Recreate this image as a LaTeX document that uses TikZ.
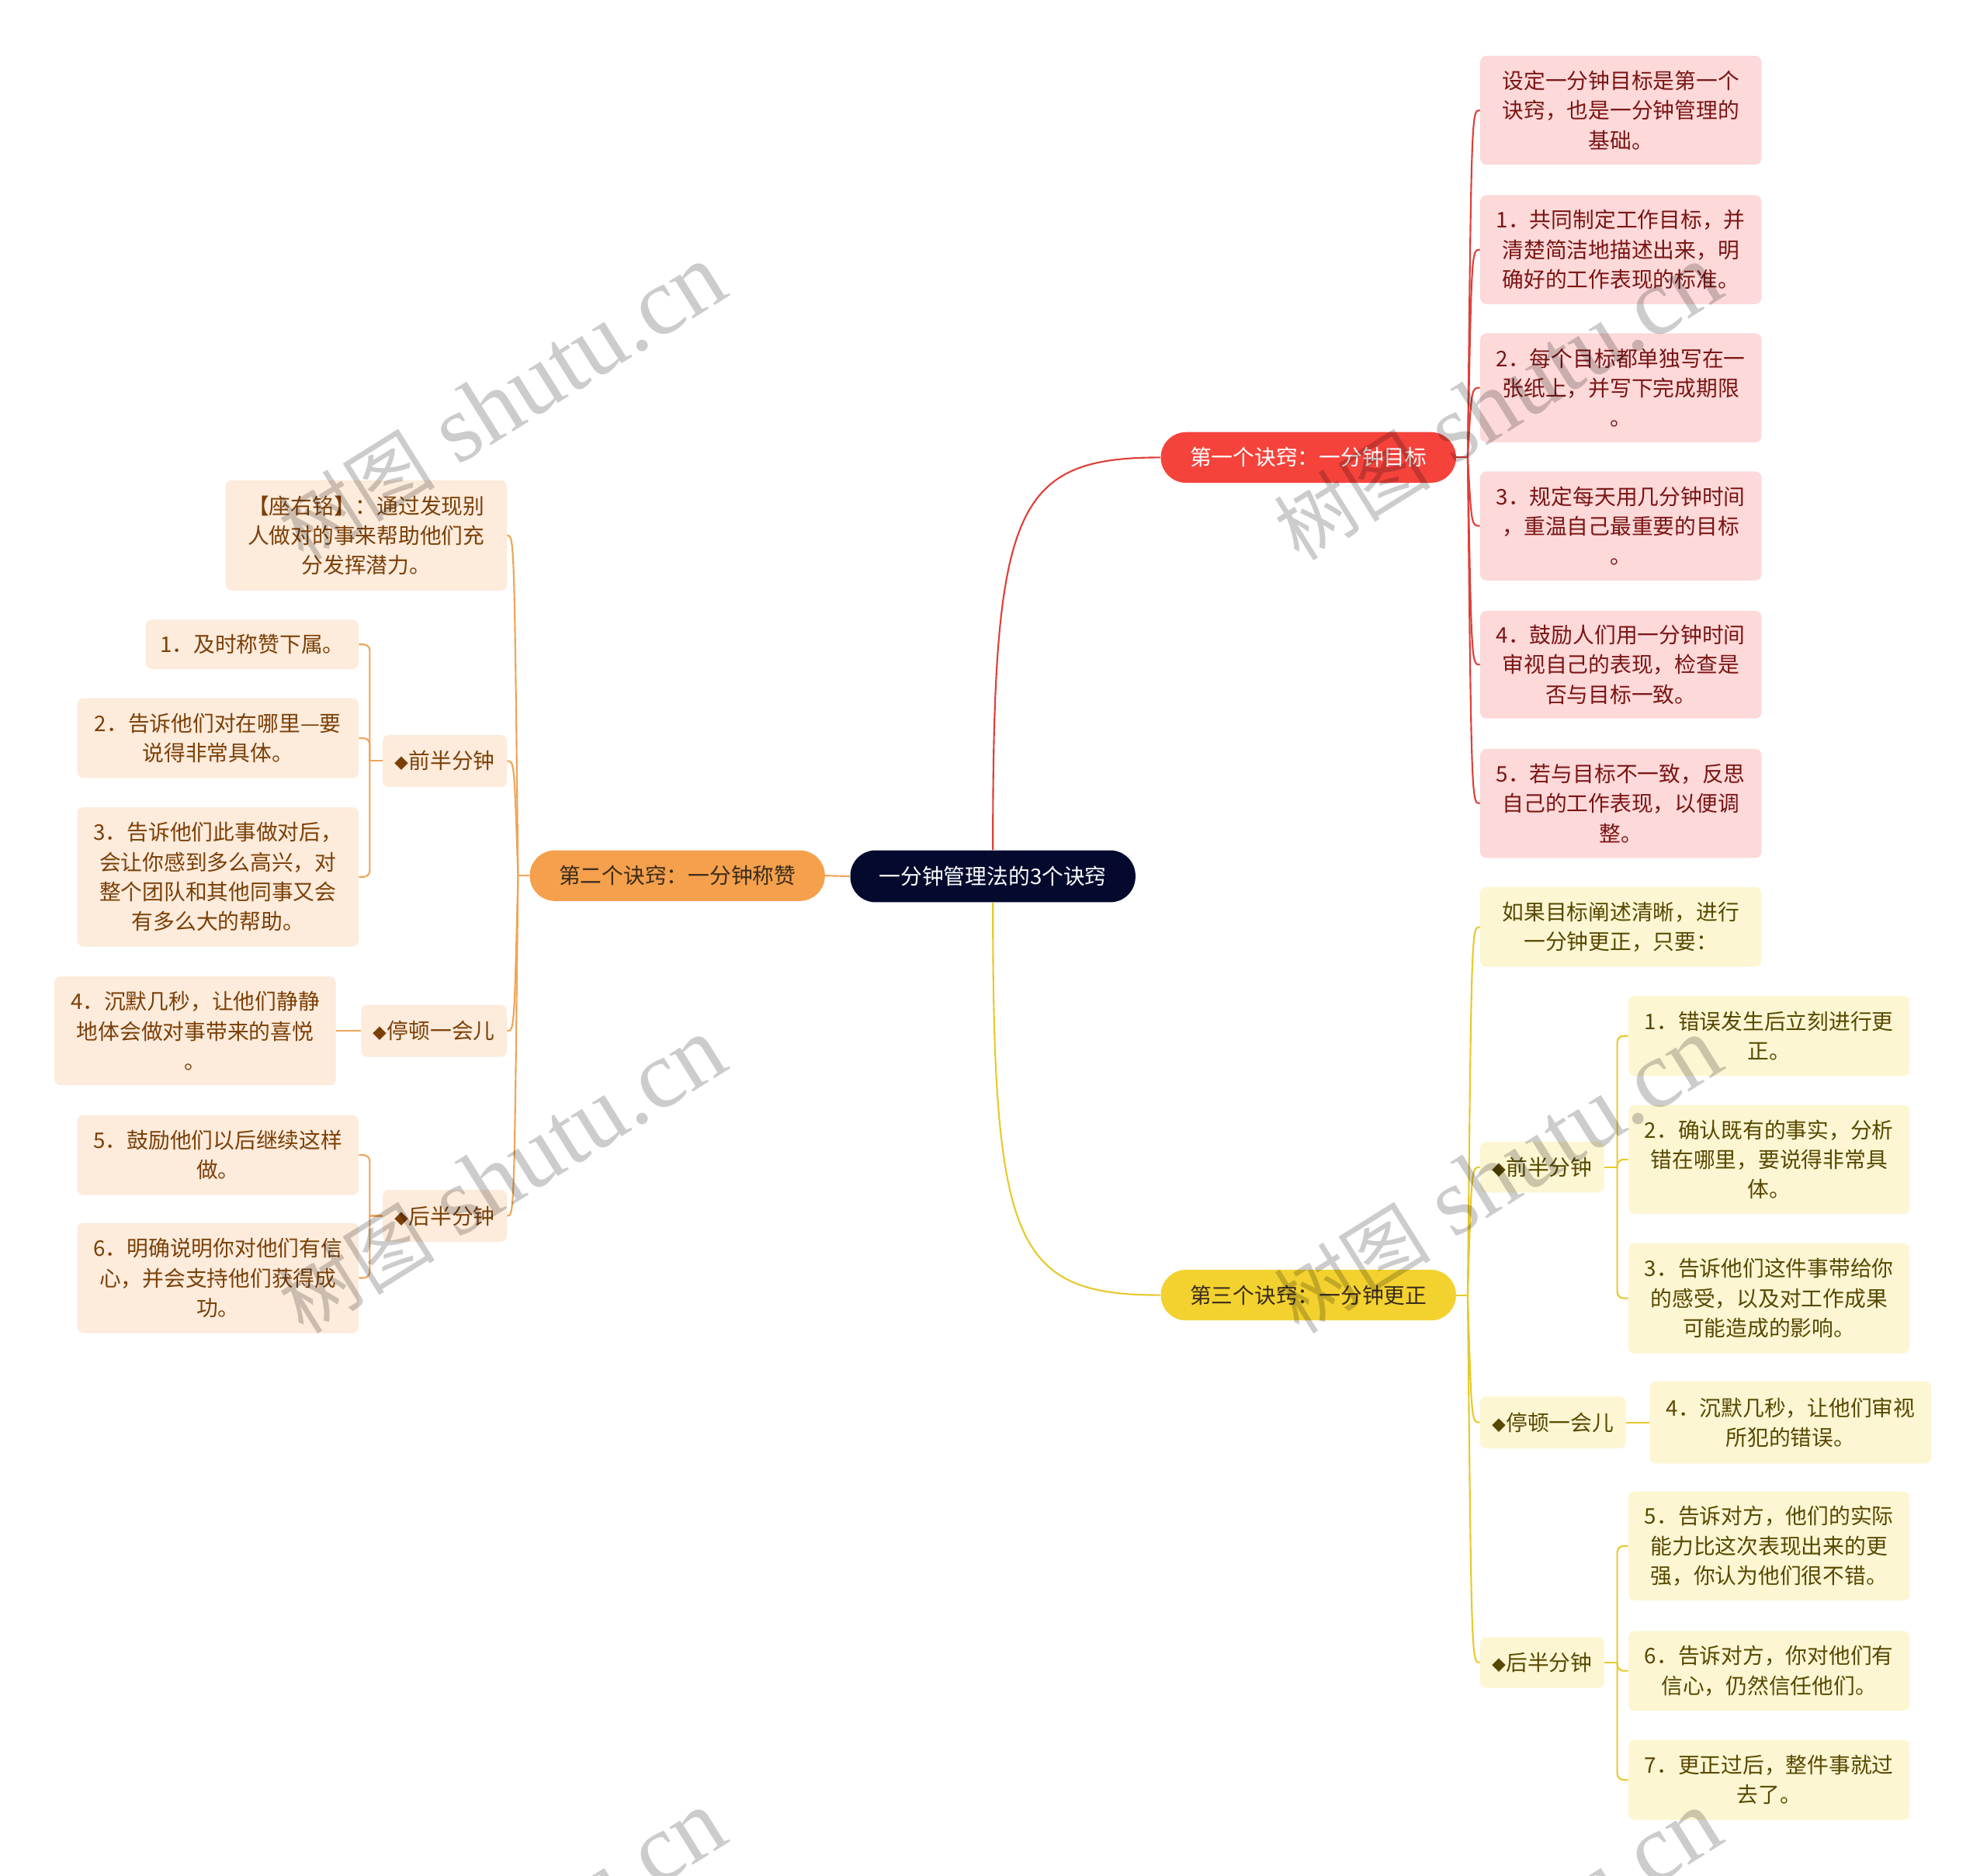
\documentclass[tikz,border=0pt]{standalone}
\usepackage{fontspec}
\newfontfamily\cjk{Noto Sans CJK SC}
\newfontfamily\wmserif{Liberation Serif}
\usetikzlibrary{calc}
\definecolor{rootc}{HTML}{030A2E}
\definecolor{redc}{HTML}{F5433C}
\definecolor{redline}{HTML}{DE4038}
\definecolor{redfill}{HTML}{FDD9D9}
\definecolor{redtext}{HTML}{7A1414}
\definecolor{orgc}{HTML}{F5A04C}
\definecolor{orgline}{HTML}{EFA458}
\definecolor{orgfill}{HTML}{FDEBDB}
\definecolor{orgtext}{HTML}{7B4008}
\definecolor{yelc}{HTML}{F3D22F}
\definecolor{yelline}{HTML}{E8C92C}
\definecolor{yelfill}{HTML}{FDF6D3}
\definecolor{yeltext}{HTML}{574800}
\definecolor{brtext}{HTML}{3A2C1C}
\newcommand{\dia}{{\fontsize{11}{11}\selectfont ◆}}
\newcommand{\wmtext}{{\cjk\fontsize{62}{62}\selectfont 树图}{\wmserif\fontsize{76}{76}\selectfont\ shutu.cn}}
\begin{document}
\begin{tikzpicture}[x=1pt,y=-1pt,
  base/.style={align=center, inner sep=0pt, font=\cjk\fontsize{17}{23.5}\selectfont},
  rootbox/.style={base, fill=rootc, text=white, rounded corners=20, minimum width=225, minimum height=41},
  brbox/.style={base, rounded corners=20, minimum width=233, minimum height=40},
  rleaf/.style={base, fill=redfill, text=redtext, rounded corners=5, minimum width=222},
  oleaf/.style={base, fill=orgfill, text=orgtext, rounded corners=5, minimum width=222},
  yleaf/.style={base, fill=yelfill, text=yeltext, rounded corners=5, minimum width=222},
  rline/.style={draw=redline, line width=1.3pt},
  oline/.style={draw=orgline, line width=1.3pt},
  yline/.style={draw=yelline, line width=1.3pt},
  wm/.style={text=black, text opacity=0.2, rotate=32, inner sep=0pt}]
\useasboundingbox (0,0) rectangle (1568,1480);
\clip (0,0) rectangle (1568,1480);
\fill[white] (0,0) rectangle (1568,1480);

% root and branches
\node[rootbox] (root) at (783.5,691.5) {一分钟管理法的3个诀窍};
\node[brbox, fill=redc, text=white] (b1) at (1032.5,361) {第一个诀窍：一分钟目标};
\node[brbox, fill=orgc, text=brtext] (b2) at (534.5,691) {第二个诀窍：一分钟称赞};
\node[brbox, fill=yelc, text=brtext] (b3) at (1032.5,1022) {第三个诀窍：一分钟更正};

% red leaves
\node[rleaf, minimum height=86] (r0) at (1279,87) {设定一分钟目标是第一个\\诀窍，也是一分钟管理的\\基础。};
\node[rleaf, minimum height=86] (r1) at (1279,197) {1．共同制定工作目标，并\\清楚简洁地描述出来，明\\确好的工作表现的标准。};
\node[rleaf, minimum height=86] (r2) at (1279,306) {2．每个目标都单独写在一\\张纸上，并写下完成期限\\。};
\node[rleaf, minimum height=86] (r3) at (1279,415) {3．规定每天用几分钟时间\\，重温自己最重要的目标\\。};
\node[rleaf, minimum height=85] (r4) at (1279,524.5) {4．鼓励人们用一分钟时间\\审视自己的表现，检查是\\否与目标一致。};
\node[rleaf, minimum height=86] (r5) at (1279,634) {5．若与目标不一致，反思\\自己的工作表现，以便调\\整。};

% orange side
\node[oleaf, minimum height=87] (o0) at (289,422.5) {【座右铭】：通过发现别\\人做对的事来帮助他们充\\分发挥潜力。};
\node[oleaf, minimum width=98, minimum height=41] (o1) at (351,600.5) {\dia 前半分钟};
\node[oleaf, minimum width=168, minimum height=39] (l1) at (199,508.5) {1．及时称赞下属。};
\node[oleaf, minimum height=63] (l2) at (172,582.5) {2．告诉他们对在哪里—要\\说得非常具体。};
\node[oleaf, minimum height=110] (l3) at (172,692) {3．告诉他们此事做对后，\\会让你感到多么高兴，对\\整个团队和其他同事又会\\有多么大的帮助。};
\node[oleaf, minimum width=115, minimum height=41] (o2) at (342.5,813.5) {\dia 停顿一会儿};
\node[oleaf, minimum height=86] (l4) at (154,813.5) {4．沉默几秒，让他们静静\\地体会做对事带来的喜悦\\。};
\node[oleaf, minimum width=98, minimum height=41] (o3) at (351,959.5) {\dia 后半分钟};
\node[oleaf, minimum height=63] (l5) at (172,911.5) {5．鼓励他们以后继续这样\\做。};
\node[oleaf, minimum height=87] (l6) at (172,1008.5) {6．明确说明你对他们有信\\心，并会支持他们获得成\\功。};

% yellow side
\node[yleaf, minimum height=63] (y0) at (1279,731.5) {如果目标阐述清晰，进行\\一分钟更正，只要：};
\node[yleaf, minimum width=98, minimum height=40] (y1) at (1217,921) {\dia 前半分钟};
\node[yleaf, minimum height=63] (ya) at (1396,817.5) {1．错误发生后立刻进行更\\正。};
\node[yleaf, minimum height=86] (yb) at (1396,915) {2．确认既有的事实，分析\\错在哪里，要说得非常具\\体。};
\node[yleaf, minimum height=87] (yc) at (1396,1024.5) {3．告诉他们这件事带给你\\的感受，以及对工作成果\\可能造成的影响。};
\node[yleaf, minimum width=115, minimum height=41] (y2) at (1225.5,1122.5) {\dia 停顿一会儿};
\node[yleaf, minimum height=65] (yd) at (1413,1122.5) {4．沉默几秒，让他们审视\\所犯的错误。};
\node[yleaf, minimum width=98, minimum height=40] (y3) at (1217,1312) {\dia 后半分钟};
\node[yleaf, minimum height=86] (ye) at (1396,1220) {5．告诉对方，他们的实际\\能力比这次表现出来的更\\强，你认为他们很不错。};
\node[yleaf, minimum height=63] (yf) at (1396,1318.5) {6．告诉对方，你对他们有\\信心，仍然信任他们。};
\node[yleaf, minimum height=63] (yg) at (1396,1404.5) {7．更正过后，整件事就过\\去了。};

% root connectors
\draw[rline] (root.north) .. controls +(0,-270) and +(-116,0) .. (b1.west);
\draw[yline] (root.south) .. controls +(0,270) and +(-116,0) .. (b3.west);
\draw[oline] (root.west) -- (b2.east);

% red branch
\coordinate (rs) at ($(b1.east)+(9,0)$);
\draw[rline] (b1.east) -- (rs);
\foreach \n in {r0,r1,r2,r3,r4,r5}
  \draw[rline] (rs) .. controls ($(rs|-\n.west)+(3,0)$) and ($(rs|-\n.west)+(3,0)$) .. (\n.west);

% orange branch
\coordinate (os) at ($(b2.west)+(-9,0)$);
\draw[oline] (b2.west) -- (os);
\foreach \n in {o0,o1,o2,o3}
  \draw[oline] (os) .. controls ($(os|-\n.east)+(-3,0)$) and ($(os|-\n.east)+(-3,0)$) .. (\n.east);
\coordinate (o1t) at ($(o1.west)+(-10,0)$);
\draw[oline] (o1.west) -- (o1t);
\foreach \n in {l1,l2,l3}
  \draw[oline, rounded corners=5] (o1t) |- (\n.east);
\draw[oline] (o2.west) -- (l4.east);
\coordinate (o3t) at ($(o3.west)+(-10,0)$);
\draw[oline] (o3.west) -- (o3t);
\foreach \n in {l5,l6}
  \draw[oline, rounded corners=5] (o3t) |- (\n.east);

% yellow branch
\coordinate (ys) at ($(b3.east)+(9,0)$);
\draw[yline] (b3.east) -- (ys);
\foreach \n in {y0,y1,y2,y3}
  \draw[yline] (ys) .. controls ($(ys|-\n.west)+(3,0)$) and ($(ys|-\n.west)+(3,0)$) .. (\n.west);
\coordinate (y1t) at ($(y1.east)+(10,0)$);
\draw[yline] (y1.east) -- (y1t);
\foreach \n in {ya,yb,yc}
  \draw[yline, rounded corners=5] (y1t) |- (\n.west);
\draw[yline] (y2.east) -- (yd.west);
\coordinate (y3t) at ($(y3.east)+(10,0)$);
\draw[yline] (y3.east) -- (y3t);
\foreach \n in {ye,yf,yg}
  \draw[yline, rounded corners=5] (y3t) |- (\n.west);

% watermarks
\node[wm] (w1) at (396,318) {\wmtext};
\node[wm] (w2) at (1182,318) {\wmtext};
\node[wm] (w3) at (396,928) {\wmtext};
\node[wm] (w4) at (1182,928) {\wmtext};
\node[wm] (w5) at (396,1538) {\wmtext};
\node[wm] (w6) at (1182,1538) {\wmtext};
\end{tikzpicture}
\end{document}
